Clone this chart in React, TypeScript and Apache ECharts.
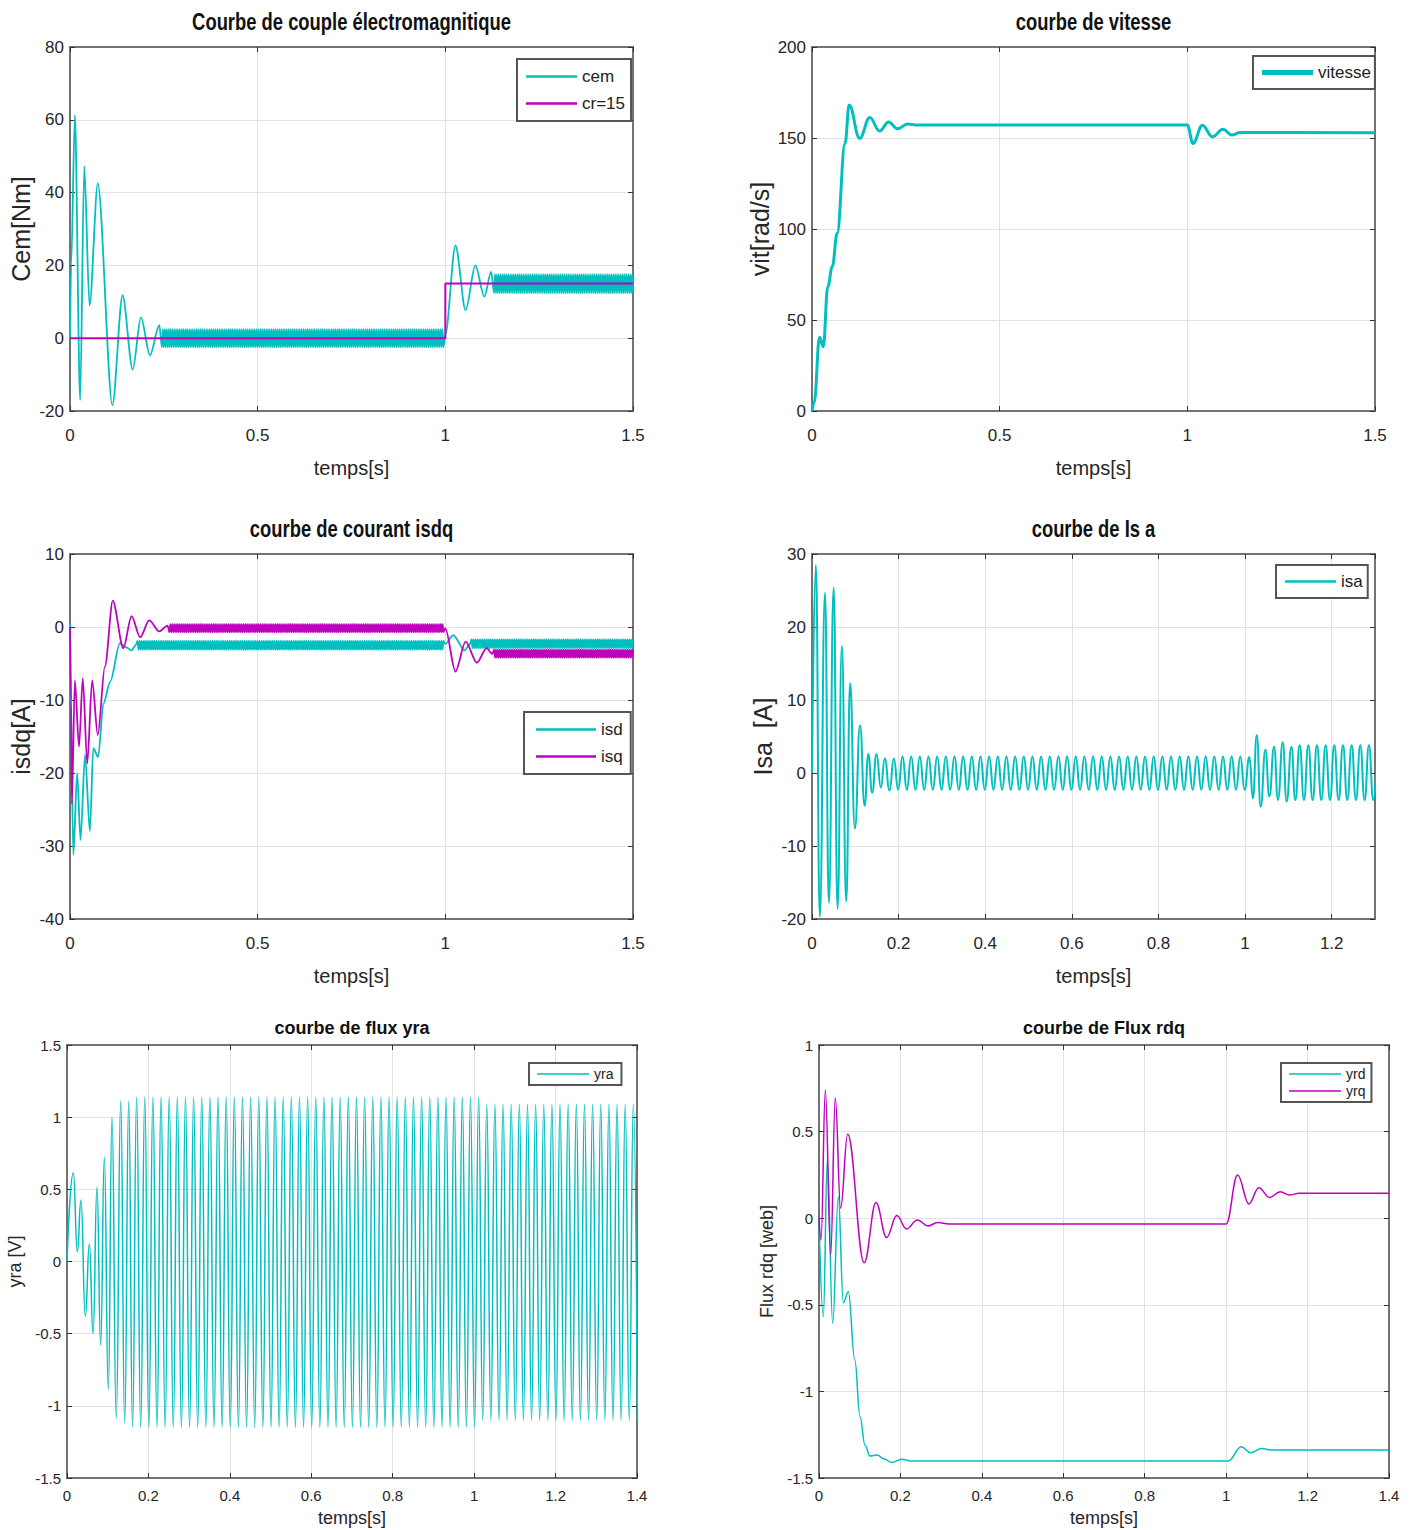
import React, { useEffect, useRef } from "react";
import * as echarts from "echarts";

type Pt = [number, number];
type Band = { from: number; to: number; high: number; low: number; startHigh: boolean };

const CYAN = "#00bfbf";
const MAGENTA = "#bf00bf";
const SANS = "'Liberation Sans', Arial, sans-serif";

// Spacing of successive extrema: fast switching ripple and the 50 Hz stator/rotor waves
const RIPPLE_STEP = 0.0025;
const WAVE_HALF = 0.01;

// ---------- Couple électromagnétique ----------
const cemStart: Pt[] = [
  [0, 0], [0.003, 20], [0.013, 61.3], [0.027, -17], [0.038, 47.2], [0.052, 9], [0.074, 42.5],
  [0.113, -18.4], [0.14, 11.8], [0.167, -8.6], [0.189, 5.7], [0.213, -4.7], [0.238, 3.6],
];
const cemRippleNoLoad: Band = { from: 0.245, to: 0.995, high: 2.5, low: -2.5, startHigh: false };
const cemLoadStep: Pt[] = [
  [1.0, 1], [1.027, 25.5], [1.054, 7.7], [1.08, 20], [1.104, 11.4], [1.122, 18.2],
];
const cemRippleLoad: Band = { from: 1.13, to: 1.5, high: 17.6, low: 12.4, startHigh: false };
const crRef: Pt[] = [[0, 0], [1, 0], [1, 15], [1.5, 15]];

// ---------- Vitesse ----------
const vitesse: Pt[] = [
  [0, 0], [0.006, 5], [0.02, 40.5], [0.03, 35.3], [0.042, 68.3], [0.054, 79.3], [0.067, 97.6],
  [0.088, 147], [0.099, 168.1], [0.127, 149.8], [0.154, 161.3], [0.18, 153.8], [0.204, 158.8],
  [0.228, 155.1], [0.255, 157.7], [0.28, 157.1], [1.0, 157.1], [1.015, 147], [1.04, 157],
  [1.067, 150.7], [1.095, 154.8], [1.119, 151.6], [1.14, 153], [1.5, 152.9],
];

// ---------- Courants isd / isq ----------
const isdStart: Pt[] = [
  [0, 0.5], [0.003, -15], [0.009, -31.2], [0.019, -20], [0.028, -29.2], [0.04, -17.5],
  [0.053, -28], [0.062, -16.6], [0.075, -17.8], [0.089, -10.5], [0.107, -7.5], [0.133, -2.2],
  [0.15, -2.8], [0.164, -3.2], [0.175, -2.5],
];
const isdRippleNoLoad: Band = { from: 0.18, to: 0.995, high: -1.9, low: -3.1, startHigh: true };
const isdLoadStep: Pt[] = [[1.0, -2.3], [1.021, -1.1], [1.051, -3.2], [1.065, -2.4]];
const isdRippleLoad: Band = { from: 1.07, to: 1.5, high: -1.7, low: -2.9, startHigh: true };

const isqStart: Pt[] = [
  [0, 0], [0.003, -10], [0.005, -24.2], [0.013, -7.3], [0.024, -16.4], [0.034, -7.0],
  [0.046, -18.7], [0.059, -7.3], [0.074, -14.8], [0.093, -5.4], [0.114, 3.6], [0.142, -2.9],
  [0.164, 1.5], [0.187, -1.4], [0.211, 0.9], [0.238, -0.6], [0.26, 0.2],
];
const isqRippleNoLoad: Band = { from: 0.265, to: 0.995, high: 0.4, low: -0.7, startHigh: false };
const isqLoadStep: Pt[] = [[1.0, -0.2], [1.027, -6.1], [1.054, -2.0], [1.084, -4.9], [1.11, -2.9], [1.125, -3.7]];
const isqRippleLoad: Band = { from: 1.13, to: 1.5, high: -3.1, low: -4.2, startHigh: true };

// ---------- Courant statorique isa ----------
const isaStart: Pt[] = [
  [0, 0], [0.009, 28.5], [0.018, -19.7], [0.03, 24.7], [0.039, -17.8], [0.05, 25.4],
  [0.059, -18.6], [0.069, 17.4], [0.079, -17.6], [0.088, 12.3], [0.099, -7.6], [0.111, 6.5],
  [0.1215, -4.5], [0.13, 2.6], [0.139, -2.7], [0.149, 2.6], [0.159, -2.0], [0.168, 2.0],
  [0.179, -2.4], [0.189, 2.0],
];
const isaWaveNoLoad: Band = { from: 0.199, to: 0.999, high: 2.25, low: -2.3, startHigh: false };
const isaLoadStep: Pt[] = [
  [1.01, 2.2], [1.018, -3.5], [1.027, 5.2], [1.036, -4.6], [1.047, 3.2], [1.056, -3.2],
  [1.067, 3.6], [1.076, -3.7], [1.087, 4.2], [1.096, -3.9], [1.107, 3.6],
];
const isaWaveLoad: Band = { from: 1.116, to: 1.306, high: 3.8, low: -3.7, startHigh: false };

// ---------- Flux rotorique yra ----------
const yraStart: Pt[] = [
  [0, 0], [0.0155, 0.615], [0.0254, 0.068], [0.0344, 0.426], [0.045, -0.38], [0.055, 0.121],
  [0.064, -0.5], [0.0737, 0.514], [0.0827, -0.579], [0.0917, 0.722], [0.1015, -0.886],
  [0.1105, 1.0], [0.121, -1.087], [0.132, 1.112], [0.1417, -1.12], [0.1516, 1.112],
  [0.161, -1.145], [0.171, 1.138],
];
const yraWaveNoLoad: Band = { from: 0.181, to: 1.011, high: 1.14, low: -1.15, startHigh: false };
const yraWaveLoad: Band = { from: 1.021, to: 1.401, high: 1.09, low: -1.1, startHigh: false };

// ---------- Flux rotoriques yrd / yrq ----------
const yrd: Pt[] = [
  [0, 0], [0.0106, -0.569], [0.0205, 0.336], [0.0336, -0.607], [0.0475, 0.124], [0.0598, -0.488],
  [0.072, -0.424], [0.088, -0.819], [0.1007, -1.146], [0.113, -1.31], [0.125, -1.373],
  [0.143, -1.367], [0.16, -1.39], [0.179, -1.411], [0.203, -1.392], [0.23, -1.402],
  [1.005, -1.402], [1.037, -1.319], [1.06, -1.354], [1.088, -1.329], [1.11, -1.338], [1.4, -1.338],
];
const yrq: Pt[] = [
  [0, 0], [0.005, -0.126], [0.0156, 0.74], [0.0287, -0.212], [0.04, 0.696], [0.053, 0.057],
  [0.0704, 0.484], [0.111, -0.257], [0.14, 0.09], [0.166, -0.112], [0.191, 0.015],
  [0.215, -0.062], [0.2416, -0.01], [0.268, -0.045], [0.291, -0.025], [0.32, -0.034],
  [1.0, -0.034], [1.028, 0.249], [1.056, 0.082], [1.08, 0.176], [1.107, 0.12], [1.133, 0.153],
  [1.155, 0.134], [1.18, 0.144], [1.4, 0.144],
];

// Axis ranges [min, max, interval]
const xRangeLong: [number, number, number] = [0, 1.5, 0.5];
const xRangeIsa: [number, number, number] = [0, 1.3, 0.2];
const xRangeFlux: [number, number, number] = [0, 1.4, 0.2];
const yRangeCem: [number, number, number] = [-20, 80, 20];
const yRangeVit: [number, number, number] = [0, 200, 50];
const yRangeIsdq: [number, number, number] = [-40, 10, 10];
const yRangeIsa: [number, number, number] = [-20, 30, 10];
const yRangeYra: [number, number, number] = [-1.5, 1.5, 0.5];
const yRangeRdq: [number, number, number] = [-1.5, 1, 0.5];

// Alternates between the high and low level of a band every `step` seconds
function alternate(b: Band, step: number): Pt[] {
  const pts: Pt[] = [];
  const n = Math.round((b.to - b.from) / step);
  for (let i = 0; i <= n; i++) {
    const hi = (i % 2 === 0) === b.startHigh;
    pts.push([+(b.from + i * step).toFixed(4), hi ? b.high : b.low]);
  }
  return pts;
}

type PanelCfg = {
  title: string;
  yName: string;
  grid: { left: number; top: number; width: number; height: number };
  x: [number, number, number];
  y: [number, number, number];
  top: boolean;
  yNameGap: number;
  hideMaxX?: boolean;
};

const panels: PanelCfg[] = [
  { title: "Courbe de couple électromagnitique", yName: "Cem[Nm]", grid: { left: 70, top: 47, width: 563, height: 364 }, x: xRangeLong, y: yRangeCem, top: true, yNameGap: 37 },
  { title: "courbe de vitesse", yName: "vit[rad/s]", grid: { left: 812, top: 47, width: 563, height: 364 }, x: xRangeLong, y: yRangeVit, top: true, yNameGap: 40 },
  { title: "courbe de courant isdq", yName: "isdq[A]", grid: { left: 70, top: 554, width: 563, height: 365 }, x: xRangeLong, y: yRangeIsdq, top: true, yNameGap: 37 },
  { title: "courbe de Is a", yName: "Isa  [A]", grid: { left: 812, top: 554, width: 563, height: 365 }, x: xRangeIsa, y: yRangeIsa, top: true, yNameGap: 37, hideMaxX: true },
  { title: "courbe de flux yra", yName: "yra [V]", grid: { left: 67, top: 1045, width: 570, height: 433 }, x: xRangeFlux, y: yRangeYra, top: false, yNameGap: 43 },
  { title: "courbe de Flux rdq", yName: "Flux rdq [web]", grid: { left: 819, top: 1045, width: 570, height: 433 }, x: xRangeFlux, y: yRangeRdq, top: false, yNameGap: 43 },
];

const BOX = { color: "#737373", width: 2 };
const TICK = { color: "#333", width: 1 };
const GRIDLINE = { color: "#e2e2e2", width: 1 };

function buildOption() {
  const grids: any[] = [];
  const xAxes: any[] = [];
  const yAxes: any[] = [];
  const titleTexts: any[] = [];

  panels.forEach((p, i) => {
    grids.push({ ...p.grid, containLabel: false, outerBoundsMode: "none", show: false });
    const tickFont = p.top ? { fontFamily: SANS, fontSize: 17 } : { fontFamily: SANS, fontSize: 15 };
    xAxes.push({
      gridIndex: i, type: "value", position: "bottom",
      min: p.x[0], max: p.x[1], interval: p.x[2],
      axisLine: { show: true, onZero: false, lineStyle: BOX },
      axisTick: { show: true, inside: true, length: 5, lineStyle: TICK },
      splitLine: { show: true, lineStyle: GRIDLINE },
      axisLabel: { ...tickFont, color: "#262626", margin: p.top ? 16 : 10, showMaxLabel: !p.hideMaxX, hideOverlap: false },
      name: "temps[s]", nameLocation: "middle", nameGap: p.top ? 47 : 31, nameMoveOverlap: false,
      nameTextStyle: p.top ? { fontFamily: SANS, fontSize: 20, color: "#262626" } : { fontFamily: SANS, fontSize: 18, color: "#262626" },
    });
    xAxes.push({
      gridIndex: i, type: "value", position: "top",
      min: p.x[0], max: p.x[1], interval: p.x[2],
      axisLine: { show: true, onZero: false, lineStyle: BOX },
      axisTick: { show: true, inside: true, length: 5, lineStyle: TICK },
      splitLine: { show: false }, axisLabel: { show: false },
    });
    yAxes.push({
      gridIndex: i, type: "value", position: "left",
      min: p.y[0], max: p.y[1], interval: p.y[2],
      axisLine: { show: true, onZero: false, lineStyle: BOX },
      axisTick: { show: true, inside: true, length: 5, lineStyle: TICK },
      splitLine: { show: true, lineStyle: GRIDLINE },
      axisLabel: { ...tickFont, color: "#262626", margin: 6, hideOverlap: false },
      name: p.yName, nameLocation: "middle", nameRotate: 90, nameGap: p.yNameGap, nameMoveOverlap: false,
      nameTextStyle: p.top ? { fontFamily: SANS, fontSize: 25, color: "#262626" } : { fontFamily: SANS, fontSize: 18, color: "#262626" },
    });
    yAxes.push({
      gridIndex: i, type: "value", position: "right",
      min: p.y[0], max: p.y[1], interval: p.y[2],
      axisLine: { show: true, onZero: false, lineStyle: BOX },
      axisTick: { show: true, inside: true, length: 5, lineStyle: TICK },
      splitLine: { show: false }, axisLabel: { show: false },
    });
    // Panel titles; the upper four use a horizontally condensed bold face
    titleTexts.push({
      type: "text",
      x: p.grid.left + p.grid.width / 2,
      y: p.top ? p.grid.top - 25 : p.grid.top - 17,
      scaleX: p.top ? 0.8 : 1,
      silent: true,
      style: {
        text: p.title,
        font: p.top ? `bold 23px ${SANS}` : `bold 18px ${SANS}`,
        fill: "#111",
        textAlign: "center",
        textVerticalAlign: "middle",
      },
    });
  });

  const line = (name: string, panel: number, data: Pt[], color: string, width: number, smooth: number | boolean) => ({
    name, type: "line", xAxisIndex: panel * 2, yAxisIndex: panel * 2, data,
    symbol: "none", showSymbol: false, smooth, smoothMonotone: "x", clip: true,
    lineStyle: { color, width }, itemStyle: { color }, emphasis: { disabled: true },
  });

  const cem = [...cemStart, ...alternate(cemRippleNoLoad, RIPPLE_STEP), ...cemLoadStep, ...alternate(cemRippleLoad, RIPPLE_STEP)];
  const isd = [...isdStart, ...alternate(isdRippleNoLoad, RIPPLE_STEP), ...isdLoadStep, ...alternate(isdRippleLoad, RIPPLE_STEP)];
  const isq = [...isqStart, ...alternate(isqRippleNoLoad, RIPPLE_STEP), ...isqLoadStep, ...alternate(isqRippleLoad, RIPPLE_STEP)];
  const isa = [...isaStart, ...alternate(isaWaveNoLoad, WAVE_HALF), ...isaLoadStep, ...alternate(isaWaveLoad, WAVE_HALF)];
  const yra = [...yraStart, ...alternate(yraWaveNoLoad, WAVE_HALF), ...alternate(yraWaveLoad, WAVE_HALF)];

  const series = [
    line("cem", 0, cem, CYAN, 1.8, 0.3),
    line("cr=15", 0, crRef, MAGENTA, 2, false),
    line("vitesse", 1, vitesse, CYAN, 3, 0.4),
    line("isd", 2, isd, CYAN, 1.8, 0.3),
    line("isq", 2, isq, MAGENTA, 1.8, 0.3),
    line("isa", 3, isa, CYAN, 2, 0.5),
    line("yra", 4, yra, CYAN, 1.5, 0.5),
    line("yrd", 5, yrd, CYAN, 1.5, 0.4),
    line("yrq", 5, yrq, MAGENTA, 1.5, 0.4),
  ];

  // Legend swatches are thin rectangles so they read as line samples
  const legendBase = {
    orient: "vertical", selectedMode: false, backgroundColor: "#fff", icon: "rect",
    borderColor: "#555", borderWidth: 2, borderRadius: 0,
  };
  const topText = { fontFamily: SANS, fontSize: 17, color: "#222" };
  const botText = { fontFamily: SANS, fontSize: 14, color: "#222" };
  const legend = [
    { ...legendBase, data: ["cem", "cr=15"], left: 517, top: 59, itemWidth: 51, itemHeight: 2.5, itemGap: 10, padding: [9, 6, 9, 9], textStyle: topText },
    { ...legendBase, data: ["vitesse"], left: 1253, top: 56, itemWidth: 51, itemHeight: 5, padding: [8, 4, 8, 9], textStyle: topText },
    { ...legendBase, data: ["isd", "isq"], left: 524, top: 712, itemWidth: 60, itemHeight: 2.5, itemGap: 10, padding: [9, 8, 9, 12], textStyle: topText },
    { ...legendBase, data: ["isa"], left: 1276, top: 565, itemWidth: 51, itemHeight: 2.5, padding: [8, 5, 8, 9], textStyle: topText },
    { ...legendBase, data: ["yra"], left: 529, top: 1063, itemWidth: 52, itemHeight: 1.5, padding: [4, 8, 4, 8], textStyle: botText },
    { ...legendBase, data: ["yrd", "yrq"], left: 1281, top: 1063, itemWidth: 52, itemHeight: 1.5, itemGap: 3, padding: [4, 6, 4, 8], textStyle: botText },
  ];

  return {
    animation: false,
    backgroundColor: "#ffffff",
    graphic: { elements: titleTexts },
    grid: grids,
    xAxis: xAxes,
    yAxis: yAxes,
    legend,
    series,
  };
}

export default function App() {
  const ref = useRef<HTMLDivElement>(null);
  useEffect(() => {
    if (!ref.current) return;
    const chart = echarts.init(ref.current, undefined, { renderer: "svg" });
    chart.setOption(buildOption() as any);
    return () => chart.dispose();
  }, []);
  return (
    <div
      ref={ref}
      style={{ position: "absolute", left: 0, top: 0, width: 1418, height: 1530, background: "#fff" }}
    />
  );
}
